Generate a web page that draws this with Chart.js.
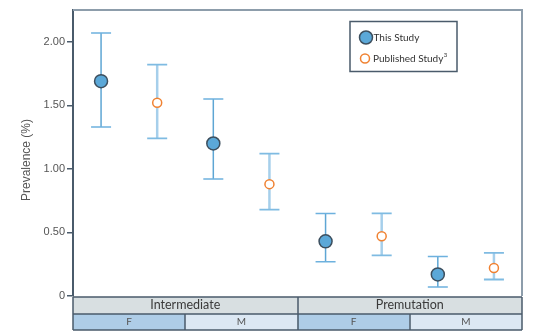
<!DOCTYPE html>
<html>
<head>
<meta charset="utf-8">
<script src="https://cdn.jsdelivr.net/npm/chart.js@4/dist/chart.umd.min.js"></script>
<style>
  html, body { margin: 0; padding: 0; background: #fff; }
  #wrap { width: 534px; height: 331px; }
</style>
</head>
<body>
<div id="wrap"><canvas id="prevChart" width="534" height="331"></canvas></div>
<script>
// Data
const groups = ['Intermediate', 'Premutation'];
const sexes = ['F', 'M', 'F', 'M'];
const seriesNames = ['This Study', 'Published Study'];

const thisStudy = [1.69, 1.20, 0.43, 0.17];
const thisLow = [1.33, 0.92, 0.27, 0.07];
const thisHigh = [2.07, 1.55, 0.65, 0.31];

const published = [1.52, 0.88, 0.47, 0.22];
const pubLow = [1.24, 0.68, 0.32, 0.13];
const pubHigh = [1.82, 1.12, 0.65, 0.34];

const yTicks = [0, 0.5, 1.0, 1.5, 2.0];
const yTickLabels = ['0', '0.50', '1.00', '1.50', '2.00'];
const yTitle = 'Prevalence (%)';

const slate = '#4a5b6b';

// each sex column takes two x units: this study at +0.5, published at +1.5
const toPoints = (vals, shift) => vals.map((v, i) => ({ x: i * 2 + shift, y: v }));

// error bars under the markers
const errorBars = {
    id: 'errorBars',
    beforeDatasetsDraw(chart) {
        const ctx = chart.ctx;
        const xs = chart.scales.x, ys = chart.scales.y;
        const draw = (lows, highs, shift, lineColor, lineW, capColor, capW) => {
            lows.forEach((lo, i) => {
                const x = xs.getPixelForValue(i * 2 + shift);
                const y1 = ys.getPixelForValue(lo);
                const y2 = ys.getPixelForValue(highs[i]);
                ctx.save();
                ctx.strokeStyle = lineColor;
                ctx.lineWidth = lineW;
                ctx.beginPath();
                ctx.moveTo(x, y1);
                ctx.lineTo(x, y2);
                ctx.stroke();
                ctx.strokeStyle = capColor;
                ctx.lineWidth = capW;
                ctx.beginPath();
                ctx.moveTo(x - 10, y1); ctx.lineTo(x + 10, y1);
                ctx.moveTo(x - 10, y2); ctx.lineTo(x + 10, y2);
                ctx.stroke();
                ctx.restore();
            });
        };
        draw(thisLow, thisHigh, 0.5, '#5ea6d4', 1.5, '#6db1de', 1.5);
        draw(pubLow, pubHigh, 1.5, '#a6cfeb', 2.5, '#7fbbe2', 1.8);
    }
};

// frame, category band, legend and y title
const decorations = {
    id: 'decorations',
    afterDraw(chart) {
        const ctx = chart.ctx;
        const area = chart.chartArea;
        const xs = chart.scales.x;
        ctx.save();

        // top and right frame
        ctx.strokeStyle = '#8d9dab';
        ctx.lineWidth = 2;
        ctx.beginPath();
        ctx.moveTo(area.left, area.top);
        ctx.lineTo(area.right, area.top);
        ctx.lineTo(area.right, area.bottom);
        ctx.stroke();

        // category band
        const r1Top = area.bottom + 1, r1Bot = area.bottom + 18, r2Bot = area.bottom + 34;
        ctx.fillStyle = '#d8dfe1';
        ctx.fillRect(area.left, r1Top, area.right - area.left, r1Bot - r1Top);
        sexes.forEach((s, i) => {
            const x1 = xs.getPixelForValue(i * 2);
            const x2 = xs.getPixelForValue(i * 2 + 2);
            ctx.fillStyle = s === 'F' ? '#aecde7' : '#dce8f3';
            ctx.fillRect(x1, r1Bot, x2 - x1, r2Bot - r1Bot);
            ctx.fillStyle = '#555';
            ctx.font = '10px Lato';
            ctx.textAlign = 'center';
            ctx.textBaseline = 'middle';
            ctx.fillText(s, (x1 + x2) / 2, (r1Bot + r2Bot) / 2);
        });
        groups.forEach((g, j) => {
            const x1 = xs.getPixelForValue(j * 4);
            const x2 = xs.getPixelForValue(j * 4 + 4);
            ctx.fillStyle = '#3a3a3a';
            ctx.font = '12.5px Lato';
            ctx.textAlign = 'center';
            ctx.textBaseline = 'middle';
            ctx.fillText(g, (x1 + x2) / 2, (r1Top + r1Bot) / 2 - 0.5);
        });
        ctx.strokeStyle = slate;
        ctx.lineWidth = 1.5;
        ctx.beginPath();
        ctx.moveTo(area.left, r1Top); ctx.lineTo(area.right, r1Top);
        ctx.moveTo(area.left, r1Bot); ctx.lineTo(area.right, r1Bot);
        ctx.moveTo(area.left, r2Bot); ctx.lineTo(area.right, r2Bot);
        for (let i = 1; i < sexes.length; i++) {
            const x = Math.round(xs.getPixelForValue(i * 2));
            ctx.moveTo(x, i % 2 === 0 ? r1Top : r1Bot);
            ctx.lineTo(x, r2Bot);
        }
        ctx.moveTo(area.left, r1Top); ctx.lineTo(area.left, r2Bot);
        ctx.moveTo(area.right, r1Top); ctx.lineTo(area.right, r2Bot);
        ctx.stroke();

        // legend box
        ctx.strokeStyle = slate;
        ctx.lineWidth = 1.5;
        ctx.strokeRect(350, 21.5, 107, 50);
        ctx.beginPath();
        ctx.arc(366, 37.5, 6.5, 0, Math.PI * 2);
        ctx.fillStyle = '#5ba8d8';
        ctx.fill();
        ctx.strokeStyle = '#3d4f5e';
        ctx.lineWidth = 1.5;
        ctx.stroke();
        ctx.beginPath();
        ctx.arc(365, 58.5, 4.5, 0, Math.PI * 2);
        ctx.fillStyle = '#fff';
        ctx.fill();
        ctx.strokeStyle = '#f08232';
        ctx.stroke();
        ctx.fillStyle = '#333';
        ctx.font = '10px Lato';
        ctx.textAlign = 'left';
        ctx.textBaseline = 'middle';
        ctx.fillText(seriesNames[0], 373.5, 37.5);
        ctx.fillText(seriesNames[1], 373, 58.5);
        const w = ctx.measureText(seriesNames[1]).width;
        ctx.font = '6px Lato';
        ctx.fillText('3', 373 + w + 0.5, 55.5);

        // y title
        ctx.translate(27, 160);
        ctx.rotate(-Math.PI / 2);
        ctx.fillStyle = '#555';
        ctx.font = '12px "Liberation Sans"';
        ctx.textAlign = 'center';
        ctx.textBaseline = 'middle';
        ctx.fillText(yTitle, 0, 0);
        ctx.restore();
    }
};

new Chart(document.getElementById('prevChart'), {
    type: 'scatter',
    data: {
        datasets: [{
            label: seriesNames[0],
            data: toPoints(thisStudy, 0.5),
            pointRadius: 6.5,
            pointBackgroundColor: '#5ba8d8',
            pointBorderColor: '#3d4f5e',
            pointBorderWidth: 1.5
        }, {
            label: seriesNames[1],
            data: toPoints(published, 1.5),
            pointRadius: 4.5,
            pointBackgroundColor: '#fff',
            pointBorderColor: '#f08232',
            pointBorderWidth: 1.5
        }]
    },
    options: {
        responsive: false,
        animation: false,
        devicePixelRatio: 1,
        layout: { padding: { top: 10, right: 12, bottom: 35, left: 0 } },
        plugins: {
            legend: { display: false },
            tooltip: { enabled: false }
        },
        scales: {
            x: { type: 'linear', min: 0, max: 8, display: false },
            y: {
                min: 0,
                max: 2.25,
                afterBuildTicks: (scale) => { scale.ticks = yTicks.map(v => ({ value: v })); },
                afterFit: (scale) => { scale.width = 73; },
                ticks: {
                    color: '#555',
                    padding: 2,
                    font: { family: '"Liberation Sans"', size: 11 },
                    callback: (v) => yTickLabels[yTicks.indexOf(v)]
                },
                grid: {
                    drawOnChartArea: false,
                    drawTicks: true,
                    tickLength: 6,
                    color: slate,
                    lineWidth: 1.5
                },
                border: { color: slate, width: 2 }
            }
        }
    },
    plugins: [errorBars, decorations]
});
</script>
</body>
</html>
